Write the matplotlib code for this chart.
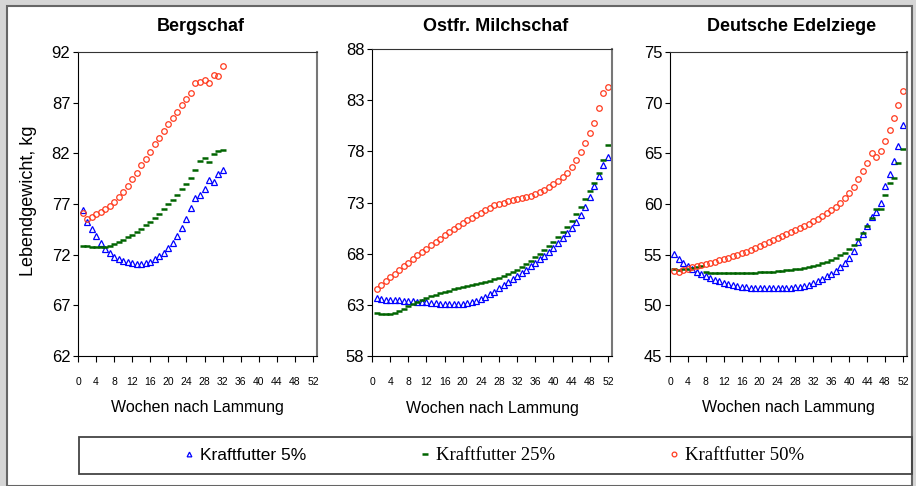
import matplotlib
matplotlib.use('Agg')
import matplotlib.pyplot as plt
from matplotlib.lines import Line2D
from matplotlib.patches import Rectangle

plt.rcParams['font.family'] = ['Liberation Sans', 'DejaVu Sans']

titles = ['Bergschaf', 'Ostfr. Milchschaf', 'Deutsche Edelziege']
series_labels = ['Kraftfutter 5%', 'Kraftfutter 25%', 'Kraftfutter 50%']
xlabel = 'Wochen nach Lammung'
ylabel = 'Lebendgewicht, kg'
xticks = list(range(0, 53, 4))

weeks_berg = list(range(1, 33))
weeks_full = list(range(1, 53))

# Bergschaf (only 32 weeks)
berg_5 = [76.4, 75.25, 74.55, 73.85, 73.2, 72.6, 72.2, 71.8, 71.55, 71.4, 71.25, 71.15,
          71.1, 71.1, 71.15, 71.3, 71.55, 71.85, 72.2, 72.65, 73.2, 73.8, 74.6, 75.5,
          76.6, 77.6, 77.9, 78.45, 79.35, 79.15, 80.0, 80.35]
berg_25 = [72.88, 72.85, 72.8, 72.75, 72.75, 72.8, 72.9, 73.05, 73.25, 73.45, 73.7, 73.95,
           74.25, 74.55, 74.9, 75.25, 75.6, 76.0, 76.5, 77.0, 77.4, 77.9, 78.45, 79.0,
           79.6, 80.4, 81.2, 81.5, 81.1, 81.95, 82.2, 82.33]
berg_50 = [76.1, 75.5, 75.75, 76.0, 76.25, 76.5, 76.85, 77.2, 77.65, 78.2, 78.8, 79.45,
           80.1, 80.8, 81.45, 82.15, 82.9, 83.5, 84.2, 84.85, 85.5, 86.1, 86.75, 87.35,
           88.0, 88.9, 89.05, 89.25, 88.9, 89.75, 89.65, 90.65]

# Ostfr. Milchschaf
milch_5 = [63.65, 63.55, 63.5, 63.5, 63.45, 63.45, 63.4, 63.4, 63.35, 63.3, 63.3, 63.25,
           63.2, 63.15, 63.1, 63.1, 63.05, 63.05, 63.05, 63.1, 63.15, 63.25, 63.4, 63.6,
           63.8, 64.05, 64.3, 64.6, 64.9, 65.2, 65.5, 65.8, 66.1, 66.45, 66.8, 67.1,
           67.45, 67.8, 68.2, 68.6, 69.0, 69.5, 70.0, 70.5, 71.05, 71.8, 72.6, 73.55,
           74.65, 75.6, 76.65, 77.45]
milch_25 = [62.2, 62.15, 62.1, 62.1, 62.2, 62.4, 62.6, 62.85, 63.1, 63.3, 63.5, 63.7,
            63.85, 64.0, 64.15, 64.3, 64.4, 64.5, 64.6, 64.7, 64.8, 64.9, 65.0, 65.1,
            65.2, 65.35, 65.5, 65.65, 65.8, 66.0, 66.25, 66.45, 66.7, 67.0, 67.3, 67.65,
            67.95, 68.35, 68.75, 69.15, 69.65, 70.15, 70.65, 71.2, 71.85, 72.6, 73.3, 74.15,
            74.95, 75.9, 77.15, 78.6]
milch_50 = [64.5, 64.9, 65.3, 65.7, 66.0, 66.4, 66.8, 67.1, 67.5, 67.9, 68.2, 68.5,
            68.8, 69.1, 69.4, 69.8, 70.1, 70.4, 70.7, 71.0, 71.3, 71.5, 71.8, 72.0,
            72.3, 72.5, 72.75, 72.9, 73.0, 73.15, 73.25, 73.3, 73.4, 73.5, 73.6, 73.8,
            74.0, 74.2, 74.5, 74.8, 75.1, 75.45, 75.9, 76.45, 77.15, 77.95, 78.85, 79.8,
            80.8, 82.2, 83.7, 84.3]

# Deutsche Edelziege
ziege_5 = [55.05, 54.56, 54.2, 53.87, 53.58, 53.31, 53.08, 52.88, 52.69, 52.5, 52.36, 52.23,
           52.1, 52.0, 51.9, 51.85, 51.8, 51.75, 51.72, 51.7, 51.68, 51.68, 51.68, 51.68,
           51.7, 51.72, 51.75, 51.8, 51.85, 51.9, 52.05, 52.2, 52.4, 52.6, 52.85, 53.1,
           53.4, 53.75, 54.2, 54.7, 55.4, 56.25, 57.0, 57.85, 58.7, 59.25, 60.1, 61.75,
           62.95, 64.25, 65.75, 67.75]
ziege_25 = [53.55, 53.5, 53.55, 53.6, 53.7, 53.8, 53.85, 53.25, 53.2, 53.2, 53.15, 53.15,
            53.15, 53.15, 53.15, 53.15, 53.2, 53.2, 53.2, 53.25, 53.25, 53.3, 53.3, 53.35,
            53.4, 53.45, 53.5, 53.55, 53.6, 53.7, 53.8, 53.9, 54.0, 54.15, 54.3, 54.5,
            54.7, 54.95, 55.2, 55.55, 55.95, 56.5, 57.1, 57.8, 58.6, 59.5, 59.5, 60.9,
            62.1, 62.6, 64.0, 65.4]
ziege_50 = [53.4, 53.25, 53.45, 53.6, 53.75, 53.9, 54.0, 54.1, 54.2, 54.3, 54.45, 54.55,
            54.7, 54.85, 55.0, 55.15, 55.3, 55.5, 55.65, 55.85, 56.05, 56.25, 56.45, 56.65,
            56.85, 57.05, 57.25, 57.45, 57.65, 57.85, 58.05, 58.3, 58.55, 58.8, 59.1, 59.4,
            59.75, 60.1, 60.6, 61.1, 61.7, 62.5, 63.3, 64.0, 65.0, 64.6, 65.2, 66.2,
            67.3, 68.5, 69.8, 71.2]

panels = [
    (weeks_berg, [berg_5, berg_25, berg_50], (62, 92)),
    (weeks_full, [milch_5, milch_25, milch_50], (58, 88)),
    (weeks_full, [ziege_5, ziege_25, ziege_50], (45, 75)),
]

styles = [
    dict(marker='^', ms=4, mfc='none', mec='#0000ff', mew=0.9),
    dict(marker='_', ms=5, mec='#006400', mew=1.8),
    dict(marker='o', ms=4, mfc='none', mec='#ff3b1f', mew=0.9),
]

W, H = 916, 486
fig = plt.figure(figsize=(W / 100, H / 100), dpi=100, facecolor='#d6d6d6')

# white inner panel
fig.patches.append(Rectangle((7 / W, 0), 905 / W, 480 / H, transform=fig.transFigure,
                             fc='white', ec='#666666', lw=1.5, zorder=-1))

# axes boxes in pixels: left, top, right, bottom
boxes = [(78, 52, 317, 356), (372, 49, 612, 356), (670, 52, 907, 356)]

for i, (weeks, ys, ylim) in enumerate(panels):
    l, t, r, b = boxes[i]
    ax = fig.add_axes([l / W, 1 - b / H, (r - l) / W, (b - t) / H])
    for y, st in zip(ys, styles):
        ax.plot(weeks, y, ls='none', **st)
    ax.set_xlim(0, 52.9)
    ax.set_ylim(*ylim)
    ax.set_xticks(xticks)
    ax.set_yticks(range(ylim[0], ylim[1] + 1, 5))
    ax.tick_params(axis='x', direction='out', length=4, labelsize=7.5, pad=11)
    ax.tick_params(axis='y', direction='out', length=3.5, labelsize=12, pad=2)
    ax.spines['top'].set_color('#333333')
    ax.spines['right'].set_color('#777777')
    ax.spines['right'].set_linewidth(1.5)
    ax.set_title(titles[i], fontsize=13, fontweight='bold', pad=(t - 31) * 0.72, x=0.515)
    ax.set_xlabel(xlabel, fontsize=11.5)
    ax.xaxis.set_label_coords(0.5, -0.145)
    if i == 0:
        ax.set_ylabel(ylabel, fontsize=13)
        ax.yaxis.set_label_coords(-0.17, 0.51)

# legend box and entries
fig.patches.append(Rectangle((79 / W, 1 - 474 / H), 833 / W, 37 / H, transform=fig.transFigure,
                             fill=False, ec='#444444', lw=1.3, zorder=-0.5))
handles = [Line2D([], [], ls='none', **st) for st in styles]
leg = fig.legend(handles, series_labels, loc='center', bbox_to_anchor=(494 / W, 1 - 455.5 / H),
                 ncol=3, frameon=False, handlelength=0.6, handletextpad=0.3,
                 columnspacing=6.3, numpoints=1, markerscale=0.85, prop={'size': 13})
texts = leg.get_texts()
texts[0].set_family(['Liberation Sans', 'DejaVu Sans'])
texts[0].set_fontsize(12.5)
for tx in texts[1:]:
    tx.set_family(['Liberation Serif', 'DejaVu Serif'])
    tx.set_fontsize(13.5)

fig.savefig('out.png', dpi=100, facecolor=fig.get_facecolor())
